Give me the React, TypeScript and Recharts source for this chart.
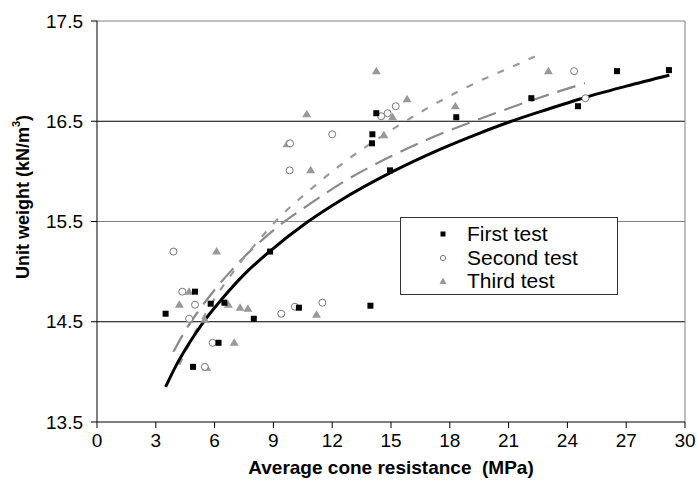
import { ScatterChart, Scatter, XAxis, YAxis, ReferenceLine } from 'recharts'

const FONT = '"Liberation Sans", Arial, sans-serif'

const xTicks = [0, 3, 6, 9, 12, 15, 18, 21, 24, 27, 30]
const yTicks = [13.5, 14.5, 15.5, 16.5, 17.5]

// measured points, [cone resistance MPa, unit weight kN/m3]
const firstTest: [number, number][] = [
  [3.5, 14.58], [4.9, 14.05], [5.0, 14.8], [5.8, 14.68], [6.2, 14.29], [6.5, 14.69],
  [8.0, 14.53], [8.83, 15.2], [10.3, 14.64], [13.95, 14.66], [14.05, 16.37], [14.03, 16.28],
  [14.25, 16.58], [14.95, 16.01], [18.33, 16.54], [22.16, 16.73], [24.54, 16.65],
  [26.53, 17.0], [29.18, 17.01],
]

const secondTest: [number, number][] = [
  [3.9, 15.2], [4.35, 14.8], [5.0, 14.67], [4.7, 14.53], [5.5, 14.05], [5.9, 14.29],
  [9.4, 14.58], [10.1, 14.65], [11.5, 14.69], [9.85, 16.28], [9.83, 16.01], [12.0, 16.37],
  [14.5, 16.55], [14.83, 16.58], [15.24, 16.65], [24.34, 17.0], [24.92, 16.73],
]

const thirdTest: [number, number][] = [
  [4.2, 14.67], [4.7, 14.8], [5.5, 14.52], [5.6, 14.04], [6.1, 15.2], [6.7, 14.67],
  [7.0, 14.29], [7.3, 14.64], [7.7, 14.63], [9.7, 16.27], [10.7, 16.57], [10.9, 16.01],
  [11.2, 14.57], [14.25, 17.0], [14.64, 16.36], [15.08, 16.54], [15.82, 16.72],
  [18.28, 16.65], [23.03, 17.0],
]

// trend curves
const trendFirst: [number, number][] = [
  [3.5, 13.85], [4.0, 14.05], [4.75, 14.3], [5.4, 14.49], [6.3, 14.71], [7.5, 14.97],
  [8.8, 15.2], [10.7, 15.49], [12.5, 15.72], [15, 15.99], [17.5, 16.22], [19.5, 16.38],
  [21, 16.49], [23, 16.62], [24.6, 16.72], [27, 16.85], [29.2, 16.96],
]

const trendSecond: [number, number][] = [
  [3.9, 14.2], [4.5, 14.41], [5.3, 14.64], [6.8, 15.0], [8, 15.24], [9.3, 15.46],
  [10.9, 15.68], [12.7, 15.91], [15, 16.15], [17, 16.33], [19.9, 16.55], [22.5, 16.73],
  [24.9, 16.88],
]

const trendThird: [number, number][] = [
  [4.2, 14.07], [5, 14.39], [6, 14.73], [7, 15.01], [8.2, 15.3], [9.3, 15.54],
  [10.9, 15.82], [12.4, 16.06], [15, 16.41], [17.4, 16.69], [19.5, 16.9], [21.6, 17.08],
  [22.6, 17.17],
]

const toPoints = (rows: [number, number][]) => rows.map(([x, y]) => ({ x, y }))

function Square(props: any) {
  const { cx, cy } = props
  return <rect x={cx - 3} y={cy - 3} width={6} height={6} fill="#000" />
}

function Ring(props: any) {
  const { cx, cy } = props
  return <circle cx={cx} cy={cy} r={3.5} fill="#fff" stroke="#777" strokeWidth={1} />
}

function Tri(props: any) {
  const { cx, cy } = props
  return <polygon points={`${cx},${cy - 4.5} ${cx + 4.5},${cy + 3} ${cx - 4.5},${cy + 3}`} fill="#999" />
}

const NoDot = () => <g />

function YTitle() {
  return (
    <text
      x={23}
      y={197}
      transform="rotate(-90 23 197)"
      textAnchor="middle"
      dominantBaseline="central"
      fontFamily={FONT}
      fontWeight="bold"
      fontSize={18}
      fill="#000"
    >
      Unit weight (kN/m<tspan dy={-7} fontSize={11}>3</tspan><tspan dy={7}>)</tspan>
    </text>
  )
}

const legendRows = [
  { name: 'First test', marker: <rect x={4.5} y={4.5} width={5} height={5} fill="#000" /> },
  { name: 'Second test', marker: <circle cx={7} cy={7} r={2.6} fill="#fff" stroke="#777" /> },
  { name: 'Third test', marker: <polygon points="7,3.5 10.5,10 3.5,10" fill="#999" /> },
]

export default function App() {
  const tickStyle = { fontSize: 19, fill: '#000', fontFamily: FONT }
  return (
    <div style={{ position: 'relative', width: 697, height: 491, background: '#fff' }}>
      <style>{'body{margin:0}'}</style>
      <ScatterChart width={697} height={491} margin={{ top: 21, right: 12, left: 0, bottom: 0 }}>
        <XAxis
          type="number"
          dataKey="x"
          domain={[0, 30]}
          ticks={xTicks}
          interval={0}
          height={69}
          tick={tickStyle}
          tickSize={6}
          tickMargin={6}
          axisLine={{ stroke: '#000' }}
          tickLine={{ stroke: '#000' }}
          label={{
            value: 'Average cone resistance \u00a0(MPa)',
            position: 'insideBottom',
            offset: 17,
            style: { fontSize: 19, fontWeight: 'bold', fill: '#000', fontFamily: FONT },
          }}
        />
        <YAxis
          type="number"
          dataKey="y"
          domain={[13.5, 17.5]}
          ticks={yTicks}
          interval={0}
          width={97}
          tick={tickStyle}
          tickSize={6}
          tickMargin={8}
          tickFormatter={(v: number) => v.toFixed(1)}
          axisLine={{ stroke: '#000' }}
          tickLine={{ stroke: '#000' }}
          label={<YTitle />}
        />
        <ReferenceLine y={14.5} stroke="#000" />
        <ReferenceLine y={15.5} stroke="#808080" />
        <ReferenceLine y={16.5} stroke="#000" />
        <ReferenceLine y={17.5} stroke="#808080" />
        <ReferenceLine x={30} stroke="#808080" />

        <Scatter data={toPoints(trendSecond)} shape={NoDot} line={{ stroke: '#8a8a8a', strokeWidth: 2.2, strokeDasharray: '19 9' }} lineJointType="monotoneX" isAnimationActive={false} />
        <Scatter data={toPoints(trendThird)} shape={NoDot} line={{ stroke: '#9a9a9a', strokeWidth: 2.2, strokeDasharray: '7 10' }} lineJointType="monotoneX" isAnimationActive={false} />
        <Scatter data={toPoints(trendFirst)} shape={NoDot} line={{ stroke: '#000', strokeWidth: 3 }} lineJointType="monotoneX" isAnimationActive={false} />

        <Scatter name="Third test" data={toPoints(thirdTest)} shape={Tri} isAnimationActive={false} />
        <Scatter name="Second test" data={toPoints(secondTest)} shape={Ring} isAnimationActive={false} />
        <Scatter name="First test" data={toPoints(firstTest)} shape={Square} isAnimationActive={false} />
      </ScatterChart>

      <div
        style={{
          position: 'absolute',
          left: 400,
          top: 217,
          width: 218,
          height: 78,
          boxSizing: 'border-box',
          border: '1px solid #333',
          background: '#fff',
          paddingTop: 4,
          fontFamily: FONT,
          fontSize: 21,
          lineHeight: '23.5px',
          color: '#000',
        }}
      >
        {legendRows.map((r) => (
          <div key={r.name} style={{ position: 'relative', height: 23.5 }}>
            <svg width={14} height={14} style={{ position: 'absolute', left: 35, top: 5 }}>
              {r.marker}
            </svg>
            <span style={{ position: 'absolute', left: 66, top: 0, whiteSpace: 'nowrap' }}>{r.name}</span>
          </div>
        ))}
      </div>
    </div>
  )
}
